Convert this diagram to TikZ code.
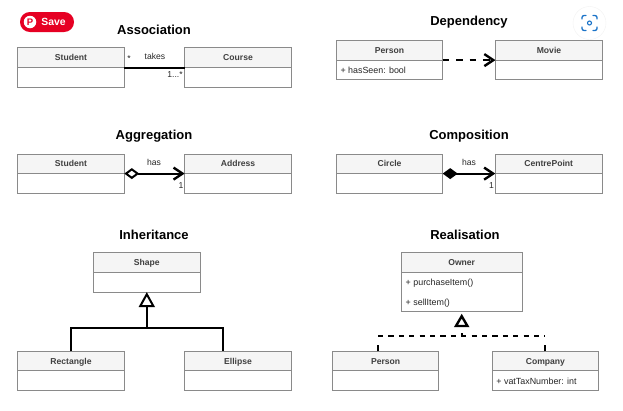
\documentclass[tikz,border=0pt]{standalone}
\usepackage{fontspec}
\setmainfont{Liberation Sans}
\usetikzlibrary{arrows.meta,calc}
\definecolor{hdr}{HTML}{F5F5F5}
\definecolor{edge}{HTML}{8A8A8A}
\definecolor{pin}{HTML}{E60023}
\definecolor{lens}{HTML}{1A73C8}
\tikzset{
  headbox/.style={draw=edge,line width=0.85pt,outer sep=0pt,fill=hdr,inner sep=0pt,anchor=north west,text height=6.2pt,text depth=0pt,font=\fontsize{8.6}{10}\bfseries\selectfont,text=black!75},
  bodybox/.style={draw=edge,line width=0.85pt,outer sep=0pt,fill=white,inner sep=0pt,anchor=north west},
  attr/.style={inner sep=0pt,anchor=west,font=\fontsize{8.9}{10}\selectfont,text=black!85},
  titlelabel/.style={inner sep=0pt,font=\fontsize{13}{15}\bfseries\selectfont},
  small/.style={inner sep=0pt,font=\fontsize{8.6}{10}\selectfont,text=black!85},
  rel/.style={line width=2pt,draw=black},
  reldash/.style={rel,dash pattern=on 6.7pt off 6.7pt},
  reldashb/.style={rel,dash pattern=on 5.2pt off 5.2pt},
  stubdash/.style={rel,dash pattern=on 6pt off 20pt},
  tickdash/.style={rel,dash pattern=on 3pt off 20pt},
  openhead/.tip={Straight Barb[length=9pt,width=12pt,line width=2.4pt]},
  hollowtri/.tip={Triangle[open,length=15pt,width=16pt,line width=2pt,fill=white]},
  smalltri/.tip={Triangle[open,length=13.5pt,width=15pt,line width=2.4pt,fill=white]},
  hollowdia/.tip={Diamond[open,length=15pt,width=11pt,line width=2pt,fill=white]},
  soliddia/.tip={Diamond[length=15pt,width=11pt]},
}
% name, left, top, width, head height, body height, title
\newcommand{\umlbox}[7]{%
  \node[headbox,minimum width=#4pt,minimum height=#5pt] (#1) at (#2,#3) {#7};
  \node[bodybox,minimum width=#4pt,minimum height=#6pt] (#1b) at (#1.south west) {};
}
\begin{document}
\begin{tikzpicture}[x=1pt,y=-1pt]
\useasboundingbox (0,0) rectangle (623,410);

% titles
\node[titlelabel] (t1) at (154,29.7) {Association};
\node[titlelabel] (t2) at (469,22.2) {Dependency};
\node[titlelabel] (t3) at (154,136.2) {Aggregation};
\node[titlelabel] (t4) at (469,136.2) {Composition};
\node[titlelabel] (t5) at (154,234.7) {Inheritance};
\node[titlelabel] (t6) at (465,234.7) {Realisation};

% Association
\umlbox{astu}{17.7}{47.7}{106.6}{19.8}{19.8}{Student}
\umlbox{acou}{184.7}{47.7}{106.6}{19.8}{19.8}{Course}
\draw[rel] (astu.south east) -- (acou.south west);
\node[small] (al1) at (129,59) {*};
\node[small] (al2) at (155,56.5) {takes};
\node[small] (al3) at (175,75) {1...*};

% Dependency
\umlbox{dper}{336.3}{40.3}{106.4}{19.8}{19.4}{Person}
\umlbox{dmov}{495.5}{40.3}{107}{19.8}{19.4}{Movie}
\node[attr] (dat) at ($(dperb.west)+(4,0.4)$) {+ hasSeen: bool};
\draw[reldash,-{openhead}] (dper.south east) -- (dmov.south west);

% Aggregation
\umlbox{gstu}{17.7}{154}{106.6}{19.6}{19.6}{Student}
\umlbox{gadd}{184.7}{154}{106.6}{19.6}{19.6}{Address}
\draw[rel,{hollowdia}-{openhead}] (gstu.south east) -- (gadd.south west);
\node[small] (gl1) at (154,162.5) {has};
\node[small] (gl2) at (181,186) {1};

% Composition
\umlbox{ccir}{336.3}{154}{106.4}{19.6}{19.6}{Circle}
\umlbox{ccen}{495.3}{154}{106.7}{19.6}{19.6}{CentrePoint}
\draw[rel,{soliddia}-{openhead}] (ccir.south east) -- (ccen.south west);
\node[small] (cl1) at (469,162.5) {has};
\node[small] (cl2) at (491.5,186) {1};

% Inheritance
\umlbox{ishp}{93.5}{252.3}{106.6}{20}{19.8}{Shape}
\umlbox{irec}{17.7}{351.3}{106.6}{19.6}{19.6}{Rectangle}
\umlbox{iell}{184.7}{351.3}{106.6}{19.6}{19.6}{Ellipse}
\coordinate (ij1) at ($(irec.north west)+(53.3,-23)$);
\coordinate (ij2) at ($(iell.north west)+(38,-23)$);
\coordinate (ij3) at (ishpb.south |- ij1);
\draw[rel] (irec.north) -- (ij1) -- (ij2) -- ($(iell.north west)+(38,0)$);
\draw[rel,-{hollowtri}] (ij3) -- (ishpb.south);

% Realisation
\umlbox{rown}{401}{252.3}{121.4}{20}{39.4}{Owner}
\umlbox{rper}{332.4}{351.3}{106.4}{19.6}{19.6}{Person}
\umlbox{rcom}{492.2}{351.3}{106.4}{19.6}{19.6}{Company}
\node[attr] (ra1) at ($(rown.south west)+(4.5,10.4)$) {+ purchaseItem()};
\node[attr] (ra2) at ($(rown.south west)+(4.5,30.4)$) {+ sellItem()};
\node[attr] (ra3) at ($(rcomb.west)+(4,0.4)$) {+ vatTaxNumber: int};
\coordinate (rj1) at ($(rper.north west)+(45.6,-15)$);
\coordinate (rj2) at ($(rcom.north)+(0,-15)$);
\coordinate (rj3) at (rownb.south |- rj1);
\draw[reldashb] (rj1) -- (rj2);
\draw[stubdash] ($(rper.north west)+(45.6,0)$) -- (rj1);
\draw[stubdash] (rcom.north) -- (rj2);
\draw[tickdash,-{smalltri}] (rj3) -- ($(rownb.south)+(0,2)$);

% Save button
\node[fill=pin,rounded corners=9.9pt,minimum width=54pt,minimum height=20pt,inner sep=0pt] (save) at (47,22) {};
\node[inner sep=0pt,text=white,font=\fontsize{10.4}{11}\bfseries\selectfont] (savet) at (53.5,22) {Save};
\node[circle,fill=white,minimum size=12.5pt,inner sep=0pt,text=pin,font=\fontsize{9.5}{10}\bfseries\selectfont] (savei) at (30,22) {P};

% Lens badge
\node[circle,fill=white,draw=black!5,minimum size=33pt,inner sep=0pt] (lensb) at (589.5,23) {};
\draw[lens,line width=1.3pt,line cap=round,rounded corners=2pt]
  (582,19) -- (582,15.5) -- (586,15.5)
  (593,15.5) -- (597,15.5) -- (597,19)
  (597,27) -- (597,30.5) -- (593,30.5)
  (586,30.5) -- (582,30.5) -- (582,27);
\draw[lens,line width=1.1pt] (lensb.center) circle (2pt);
\end{tikzpicture}
\end{document}
